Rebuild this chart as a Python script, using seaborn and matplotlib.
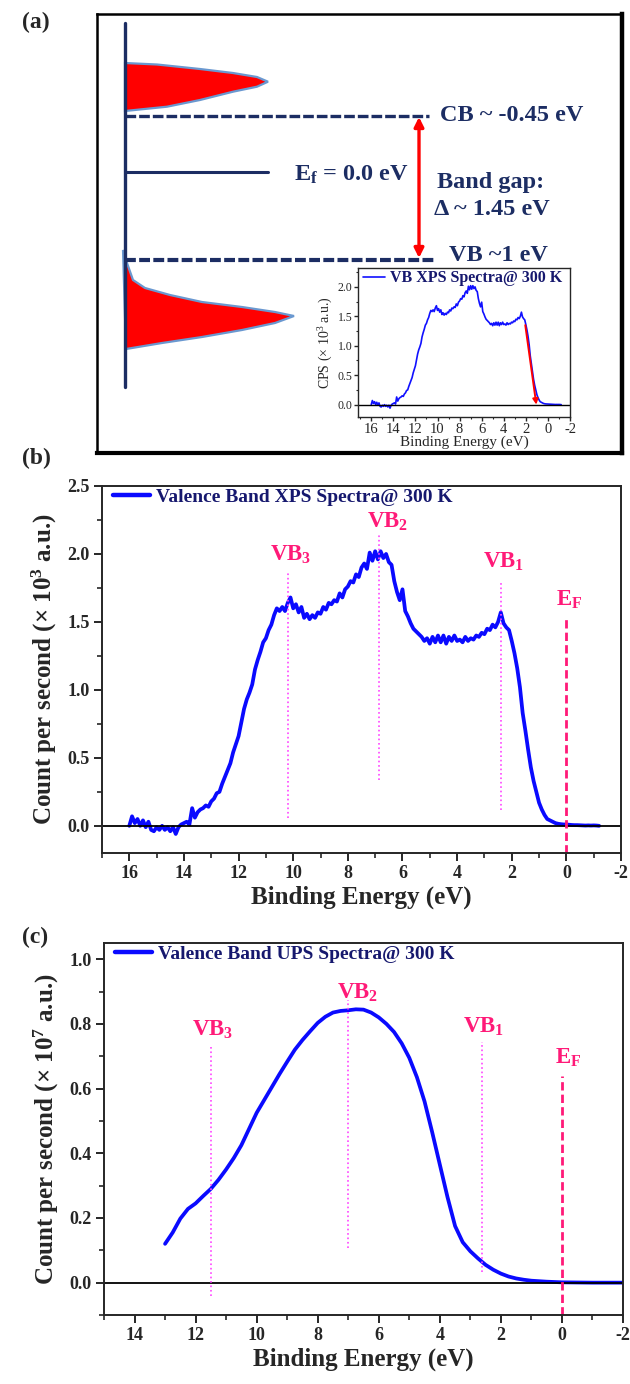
import numpy as np
import pandas as pd
import seaborn as sns
import matplotlib.pyplot as plt
from matplotlib.ticker import MultipleLocator

# VB XPS spectrum, counts (x10^3), read every 0.1 eV from 16.0 eV down to -1.2 eV
xps_cps = [0.00, 0.07, 0.02, 0.05, 0.00, 0.04, -0.01, 0.03, -0.03, -0.04,
           -0.01, -0.03, 0.00, -0.03, -0.01, -0.04, -0.01, -0.06, -0.01, 0.01,
           0.02, 0.03, 0.01, 0.13, 0.06, 0.10, 0.12, 0.13, 0.15, 0.14,
           0.18, 0.20, 0.24, 0.25, 0.31, 0.36, 0.41, 0.46, 0.54, 0.60,
           0.66, 0.76, 0.86, 0.93, 0.98, 1.04, 1.15, 1.22, 1.28, 1.35,
           1.38, 1.44, 1.48, 1.55, 1.60, 1.58, 1.61, 1.58, 1.64, 1.68,
           1.60, 1.63, 1.57, 1.61, 1.53, 1.56, 1.52, 1.55, 1.53, 1.57,
           1.56, 1.61, 1.59, 1.64, 1.63, 1.66, 1.65, 1.71, 1.68, 1.74,
           1.76, 1.80, 1.79, 1.85, 1.83, 1.90, 1.93, 1.89, 2.01, 1.95,
           2.02, 1.96, 2.02, 1.97, 2.00, 1.94, 1.92, 1.80, 1.72, 1.66,
           1.74, 1.58, 1.54, 1.49, 1.45, 1.43, 1.41, 1.39, 1.36, 1.38,
           1.34, 1.39, 1.35, 1.40, 1.35, 1.40, 1.34, 1.39, 1.36, 1.40,
           1.36, 1.37, 1.35, 1.39, 1.36, 1.38, 1.37, 1.40, 1.39, 1.42,
           1.41, 1.45, 1.44, 1.48, 1.46, 1.50, 1.57, 1.49, 1.46, 1.44,
           1.36, 1.27, 1.16, 1.02, 0.83, 0.70, 0.56, 0.43, 0.33, 0.25,
           0.17, 0.12, 0.08, 0.05, 0.04, 0.03, 0.02, 0.015, 0.012, 0.01,
           0.01, 0.008, 0.006, 0.005, 0.005, 0.004, 0.003, 0.002, 0.003, 0.002,
           0.003, 0.002, 0.0]
xps_energy = np.round(16.0 - 0.1 * np.arange(len(xps_cps)), 1)

# VB UPS spectrum, counts (x10^7)
ups_energy = [13.0, 12.75, 12.5, 12.25, 12.0, 11.75, 11.5, 11.25, 11.0, 10.75,
              10.5, 10.25, 10.0, 9.75, 9.5, 9.25, 9.0, 8.75, 8.5, 8.25,
              8.0, 7.75, 7.5, 7.25, 7.0, 6.75, 6.5, 6.25, 6.0, 5.75,
              5.5, 5.25, 5.0, 4.75, 4.5, 4.25, 4.0, 3.75, 3.5, 3.25,
              3.0, 2.75, 2.5, 2.25, 2.0, 1.75, 1.5, 1.25, 1.0, 0.5,
              0.0, -1.0, -2.0]
ups_cps = [0.12, 0.155, 0.198, 0.228, 0.245, 0.268, 0.29, 0.318, 0.35, 0.385,
           0.425, 0.475, 0.525, 0.565, 0.605, 0.645, 0.683, 0.72, 0.75, 0.777,
           0.803, 0.822, 0.835, 0.840, 0.842, 0.845, 0.844, 0.835, 0.82, 0.80,
           0.775, 0.74, 0.695, 0.635, 0.56, 0.465, 0.365, 0.265, 0.175, 0.125,
           0.097, 0.075, 0.055, 0.04, 0.028, 0.019, 0.013, 0.009, 0.006, 0.003,
           0.001, 0.0, 0.0]

# peak markers: energy, line bottom, line top, label x, label baseline
xps_marks = {"VB$_3$": (10.2, 0.06, 1.86, 10.1, 1.95),
             "VB$_2$": (6.85, 0.34, 2.15, 6.55, 2.19),
             "VB$_1$": (2.4, 0.12, 1.79, 2.3, 1.90)}
xps_ef = (0.0, -0.2, 1.54, -0.1, 1.62)
ups_marks = {"VB$_3$": (11.5, -0.04, 0.73, 11.43, 0.764),
             "VB$_2$": (7.0, 0.106, 0.874, 6.7, 0.877),
             "VB$_1$": (2.62, 0.034, 0.745, 2.57, 0.774)}
ups_ef = (0.0, -0.1, 0.64, -0.19, 0.678)

# inset: linear extrapolation of the leading edge
edge_start = (2.05, 1.35)
edge_end = (1.05, 0.0)

# band diagram (a), schematic coordinates inside the box (pixels from top-left)
cb_lobe_x = [28, 60, 103, 136, 160, 171, 160, 136, 103, 70, 28]
cb_lobe_y = [49, 50.5, 55, 59, 63, 67.7, 72.7, 77.7, 86, 92.7, 97]
vb_lobe_x = [26, 30, 36, 48, 73, 105, 145, 178, 197, 178, 145, 105, 65, 29]
vb_lobe_y = [236, 249, 266, 274, 281, 288, 293, 298, 302, 309, 316, 323, 329, 335]
cb_level, ef_level, vb_level = 102, 158, 246

sns.set_style("ticks")
plt.rcParams['font.family'] = ['Liberation Serif', 'DejaVu Serif']
plt.rcParams['mathtext.default'] = 'regular'
plt.rcParams['axes.unicode_minus'] = False

W, H = 630, 1384
fig = plt.figure(figsize=(W / 100, H / 100), dpi=100)

def box(l, t, r, b):
    return [l / W, 1 - b / H, (r - l) / W, (b - t) / H]

navy = "#1c2d63"
legnavy = "#16186e"
pink = "#ff1a78"
violet = "#ff44ff"

# ---------------- (a) schematic
ax_a = fig.add_axes(box(97, 14, 622, 453))
ax_a.set_xlim(0, 525)
ax_a.set_ylim(439, 0)
ax_a.set_xticks([])
ax_a.set_yticks([])
for s in ax_a.spines.values():
    s.set_linewidth(1.8)
    s.set_color("black")
ax_a.spines['right'].set_linewidth(3.2)
ax_a.spines['bottom'].set_linewidth(3.0)

ax_a.fill(cb_lobe_x, cb_lobe_y, color="red", ec="#6a98d0", lw=1.6)
ax_a.fill(vb_lobe_x, vb_lobe_y, color="red", ec="#6a98d0", lw=1.6)
ax_a.plot([28, 28], [9, 373], color=navy, lw=2.4)
ax_a.plot([28, 332], [cb_level, cb_level], color=navy, lw=2.4, dashes=(3.2, 0.9))
ax_a.plot([28, 337], [vb_level, vb_level], color=navy, lw=3.0, dashes=(2.6, 0.8))
ax_a.plot([28, 171], [ef_level, ef_level], color=navy, lw=2.2)
ax_a.annotate("", xy=(322, 103), xytext=(322, 244),
              arrowprops=dict(arrowstyle="<|-|>", color="red", lw=2.4,
                              mutation_scale=14, shrinkA=0, shrinkB=0))
tk = dict(color=navy, fontsize=17.5, fontweight="bold", va="center", ha="left")
ax_a.text(343, 101, "CB ~ -0.45 eV", **tk)
ax_a.text(197, 161, "E$_f$ = 0.0 eV", **tk)
ax_a.text(340, 168, "Band gap:", **tk)
ax_a.text(337, 195, "\u0394 ~ 1.45 eV", **tk)
ax_a.text(352, 241, "VB ~1 eV", **tk)

# inset
ax_i = fig.add_axes(box(358, 268, 570, 417))
sns.lineplot(x=xps_energy, y=xps_cps, ax=ax_i, color="#1010ff", lw=1.2,
             label="VB XPS Spectra@ 300 K")
ax_i.axhline(0, color="black", lw=1.0)
ax_i.annotate("", xy=edge_end, xytext=edge_start,
              arrowprops=dict(arrowstyle="-|>", color="red", lw=1.4,
                              mutation_scale=8, shrinkA=0, shrinkB=0))
ax_i.set_xlim(17.2, -2)
ax_i.set_ylim(-0.21, 2.32)
ax_i.xaxis.set_major_locator(MultipleLocator(2))
ax_i.xaxis.set_minor_locator(MultipleLocator(1))
ax_i.yaxis.set_major_locator(MultipleLocator(0.5))
ax_i.yaxis.set_minor_locator(MultipleLocator(0.25))
ax_i.tick_params(axis='x', which='major', labelsize=10.5, length=3, width=1, pad=1)
ax_i.tick_params(axis='y', which='major', labelsize=8.5, length=3, width=1, pad=1)
ax_i.tick_params(which='minor', length=1.5, width=0.8)
ax_i.set_yticklabels([f"{v:.1f}" for v in ax_i.get_yticks()])
ax_i.set_xlabel("Binding Energy (eV)", fontsize=11, labelpad=0)
ax_i.set_ylabel("CPS (\u00d7 10$^3$ a.u.)", fontsize=10, labelpad=2)
for s in ax_i.spines.values():
    s.set_linewidth(1.0)
lg = ax_i.legend(loc="upper left", bbox_to_anchor=(0.01, 1.0), frameon=False,
                 handlelength=1.4, handletextpad=0.3, borderpad=0.15, borderaxespad=0,
                 prop=dict(size=11.5, weight="bold"))
for t in lg.get_texts():
    t.set_color(legnavy)


def spectrum(ax, x, y, label, marks, ef, xlim, ylim, ymaj, ymin, yunit):
    sns.lineplot(x=x, y=y, ax=ax, color="#0a0aff", lw=2.7, label=label)
    ax.axhline(0, color="black", lw=1.3)
    for name, (e, y0, y1, lx, ly) in marks.items():
        ax.plot([e, e], [y0, y1], color=violet, lw=1.2, ls=":")
        ax.text(lx, ly, name, color=pink, fontsize=16.5, fontweight="bold",
                ha="center", va="baseline")
    e, y0, y1, lx, ly = ef
    ax.plot([e, e], [y0, y1], color=pink, lw=2.0, dashes=(3, 1.5))
    ax.text(lx, ly, "E$_F$", color=pink, fontsize=16.5, fontweight="bold",
            ha="center", va="baseline")
    ax.set_xlim(*xlim)
    ax.set_ylim(*ylim)
    ax.xaxis.set_major_locator(MultipleLocator(2))
    ax.xaxis.set_minor_locator(MultipleLocator(1))
    ax.yaxis.set_major_locator(MultipleLocator(ymaj))
    ax.yaxis.set_minor_locator(MultipleLocator(ymin))
    ax.tick_params(which='major', labelsize=13, length=6, width=1.4, pad=3)
    ax.tick_params(which='minor', length=3.5, width=1.2)
    for t in ax.get_xticklabels() + ax.get_yticklabels():
        t.set_fontweight("bold")
    ax.set_xlabel("Binding Energy (eV)", fontsize=18, fontweight="bold", labelpad=2)
    ax.set_ylabel("Count per second (\u00d7 10$^{%d}$ a.u.)" % yunit, fontsize=18,
                  fontweight="bold", labelpad=6)
    for s in ax.spines.values():
        s.set_linewidth(1.4)
    lg = ax.legend(loc="upper left", bbox_to_anchor=(0.017, 1.0), frameon=False,
                   handlelength=1.9, handletextpad=0.3, borderpad=0.1, borderaxespad=0,
                   prop=dict(size=14, weight="bold"))
    for t in lg.get_texts():
        t.set_color(legnavy)
    for h in lg.get_lines():
        h.set_linewidth(3.2)


ax_b = fig.add_axes(box(102, 486, 621, 853))
spectrum(ax_b, xps_energy, xps_cps, "Valence Band XPS Spectra@ 300 K",
         xps_marks, xps_ef, (17, -2), (-0.2, 2.5), 0.5, 0.25, 3)

ax_c = fig.add_axes(box(104, 943, 623, 1315))
spectrum(ax_c, ups_energy, ups_cps, "Valence Band UPS Spectra@ 300 K",
         ups_marks, ups_ef, (15, -2), (-0.1, 1.05), 0.2, 0.1, 7)

lab = dict(fontsize=17, fontweight="bold", ha="left", va="center")
fig.text(22 / W, 1 - 22 / H, "(a)", **lab)
fig.text(22 / W, 1 - 458 / H, "(b)", **lab)
fig.text(22 / W, 1 - 937 / H, "(c)", **lab)

fig.savefig("out.png", dpi=100)
